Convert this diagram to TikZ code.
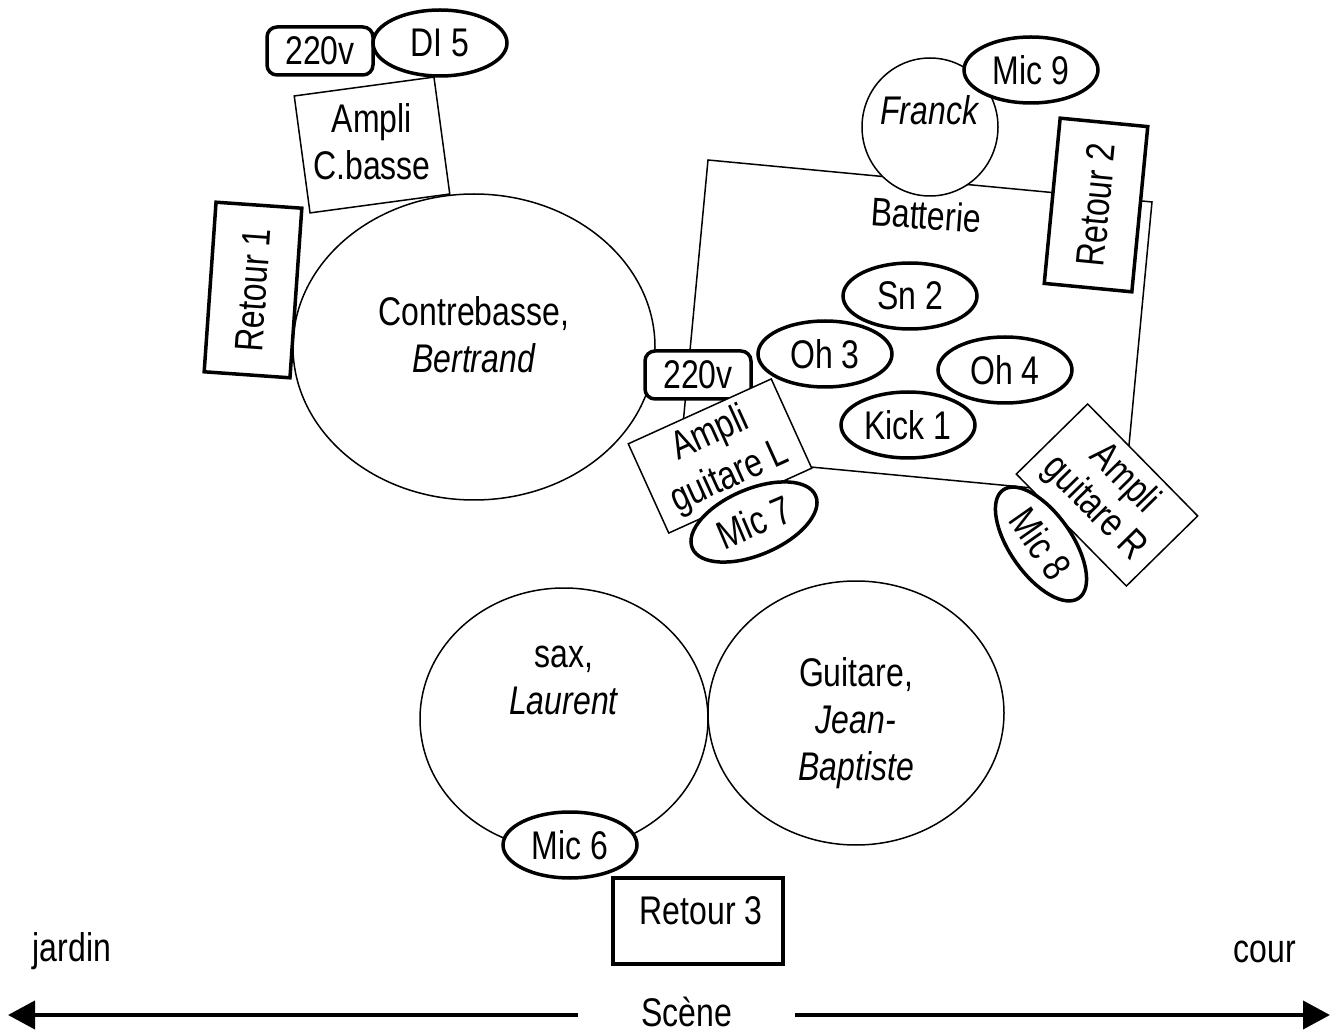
\documentclass[tikz,border=0pt]{standalone}
\usepackage{fontspec}
\setmainfont{Liberation Sans}[FakeStretch=0.8]
\usetikzlibrary{shapes.geometric, arrows.meta, positioning}

\begin{document}
\begin{tikzpicture}[
        x=0.5pt, y=-0.5pt,
        every node/.style={font=\fontsize{20}{23.5}\selectfont, inner sep=0pt, outer sep=0pt, align=center},
        musicien/.style={ellipse, draw, line width=0.75pt, fill=white},
        ampli/.style={rectangle, draw, line width=0.75pt, fill=white},
        retour/.style={rectangle, draw, line width=1.75pt, fill=white},
        mic/.style={ellipse, draw, line width=1.75pt, fill=white, minimum width=67pt, minimum height=33pt},
        prise/.style={rectangle, draw, line width=1.75pt, fill=white, rounded corners=5pt, minimum width=53pt, minimum height=24pt},
        scenearrow/.style={line width=2pt, -{Triangle[length=13.5pt, width=14pt]}}
    ]
        \useasboundingbox (0,0) rectangle (1335,1032);

        % Batterie
        \node (batterie) [draw, line width=0.75pt, rotate=-5.4, anchor=north west, minimum width=223pt, minimum height=148pt] at (708,160) {};
        \node (batterielbl) [rotate=-4] at (926,215) {Batterie};

        % Contrebasse
        \node (cbampli) [ampli, rotate=7.7, minimum width=70.5pt, minimum height=59pt] at (372,145) {};
        \node (cbamplilbl) at (372,142) {Ampli\\C.basse};
        \node (contrebasse) [musicien, minimum width=181pt, minimum height=153pt] at (474,347) {};
        \node (contrebasselbl) at (474,335) {Contrebasse,\\\textit{Bertrand}};
        \node (retour1) [retour, rotate=-4, minimum width=43pt, minimum height=85pt] at (253,290) {};
        \node (retour1lbl) [rotate=86] at (retour1) {Retour 1};
        \node (prise1) [prise] at (320,51) {220v};
        \node (di5) [mic] at (440,43) {DI 5};

        % Franck
        \node (franck) [musicien, minimum width=68pt, minimum height=69pt] at (930,127) {};
        \node (francklbl) at (930,110) {\textit{Franck}};
        \node (mic9) [mic] at (1031,70) {Mic 9};
        \node (retour2) [retour, rotate=-5.5, minimum width=44pt, minimum height=83pt] at (1096,205) {};
        \node (retour2lbl) [rotate=84.5] at (retour2) {Retour 2};
        \node (sn2) [mic] at (910,296) {Sn 2};
        \node (oh3) [mic] at (825,354) {Oh 3};
        \node (oh4) [mic] at (1005,370) {Oh 4};
        \node (kick1) [mic] at (908,425) {Kick 1};

        % Amplis guitare
        \node (prise2) [prise] at (698,375) {220v};
        \node (ampliL) [ampli, rotate=24.4, minimum width=78.5pt, minimum height=49pt] at (720,456) {Ampli\\guitare L};
        \node (mic7) [mic, rotate=23] at (754,522) {Mic 7};
        \node (ampliR) [ampli, rotate=-45.5, minimum width=78.5pt, minimum height=50pt] at (1107,495) {};
        \node (mic8) [mic, rotate=-55, minimum width=66pt, minimum height=31pt] at (1041,544) {Mic 8};
        \node (ampliRlbl) [rotate=-45.5, font=\fontsize{20}{21}\selectfont] at (1109,494) {Ampli\\guitare R};

        % Devant
        \node (sax) [musicien, minimum width=144pt, minimum height=131pt] at (564,719) {};
        \node (saxlbl) at (564,680) {sax,\\\textit{Laurent}};
        \node (guitare) [musicien, minimum width=148pt, minimum height=132pt] at (856,713) {};
        \node (guitarelbl) at (856,723) {Guitare,\\\textit{Jean-}\\\textit{Baptiste}};
        \node (mic6) [mic] at (570,845) {Mic 6};
        \node (retour3) [retour, minimum width=85pt, minimum height=43pt] at (698,921) {};
        \node (retour3lbl) at (701,911) {Retour 3};

        % Scene
        \node (jardin) at (72,951) {jardin};
        \node (cour) at (1265,952) {cour};
        \node (scene) [minimum width=108.5pt, text height=12pt, text depth=1pt] at (686.5,1015) {Scène};
        \coordinate (jardinend) at (8,1015);
        \coordinate (courend) at (1330,1015);
        \draw [scenearrow] (scene.west) -- (jardinend);
        \draw [scenearrow] (scene.east) -- (courend);
    \end{tikzpicture}
\end{document}
